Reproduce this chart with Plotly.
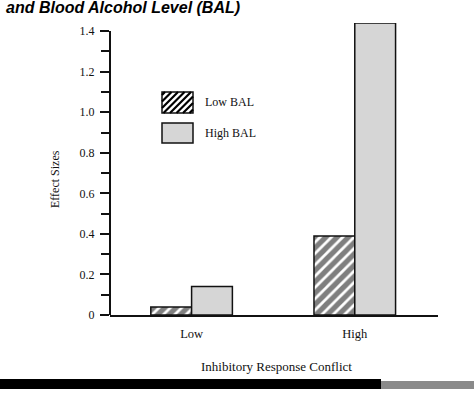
import plotly.graph_objects as go

# ---- data ----
categories = ["Low", "High"]
low_bal = [0.04, 0.39]
high_bal = [0.14, 1.44]
series_names = ["Low BAL", "High BAL"]
y_tick_vals = [0, 0.2, 0.4, 0.6, 0.8, 1.0, 1.2, 1.4]
y_tick_text = ["0", "0.2", "0.4", "0.6", "0.8", "1.0", "1.2", "1.4"]
title_text = "and Blood Alcohol Level (BAL)"
x_title = "Inhibitory Response Conflict"
y_title = "Effect Sizes"

W, H = 474, 394
L, R, T, B = 110, 36, 23, 79
PW, PH = W - L - R, H - T - B

def px(x):
    return (x - L) / PW

def py(y):
    return (H - B - y) / PH

SERIF = "Liberation Serif, Times New Roman, serif"
INK = "#111111"

fig = go.Figure()
fig.add_trace(go.Bar(
    x=categories, y=low_bal, name=series_names[0],
    marker=dict(color="white",
                pattern=dict(shape="/", fgcolor="black", bgcolor="white", size=8, solidity=0.65),
                line=dict(color=INK, width=1.5)),
    showlegend=False,
))
fig.add_trace(go.Bar(
    x=categories, y=high_bal, name=series_names[1],
    marker=dict(color="#d6d6d6", line=dict(color=INK, width=1.5)),
    showlegend=False,
))

shapes = []
# y axis line, ending at the last labelled tick (1.4)
shapes.append(dict(type="line", xref="paper", yref="y", x0=0, x1=0,
                   y0=0, y1=y_tick_vals[-1], line=dict(color=INK, width=2)))
# legend boxes (manual, larger swatches as in the original)
bx0, bx1 = 162, 193
boxes = [(92, 113), (123, 143)]
y0, y1 = boxes[0]
path = ""
k = bx0 + y0 + 3
while k < bx1 + y1:
    xa = max(bx0, k - y1)
    xb = min(bx1, k - y0)
    if xb > xa:
        path += f"M{px(xa)},{py(k - xa)}L{px(xb)},{py(k - xb)}"
    k += 6.5
shapes.append(dict(type="rect", xref="paper", yref="paper",
                   x0=px(bx0), x1=px(bx1), y0=py(y1), y1=py(y0),
                   fillcolor="white", line=dict(color=INK, width=1.5)))
shapes.append(dict(type="path", xref="paper", yref="paper", path=path,
                   line=dict(color="black", width=2.2)))
y0, y1 = boxes[1]
shapes.append(dict(type="rect", xref="paper", yref="paper",
                   x0=px(bx0), x1=px(bx1), y0=py(y1), y1=py(y0),
                   fillcolor="#d6d6d6", line=dict(color=INK, width=1.5)))
# bottom rule of the scanned page
shapes.append(dict(type="rect", xref="paper", yref="paper",
                   x0=px(0), x1=px(381), y0=py(389), y1=py(379),
                   fillcolor="black", line=dict(width=0)))
shapes.append(dict(type="rect", xref="paper", yref="paper",
                   x0=px(381), x1=px(474), y0=py(389), y1=py(381),
                   fillcolor="#8a8a8a", line=dict(width=0)))

annotations = [
    dict(text="Low BAL", xref="paper", yref="paper", x=px(203), y=py(102),
         xanchor="left", yanchor="middle", showarrow=False,
         font=dict(family=SERIF, size=12, color=INK)),
    dict(text="High BAL", xref="paper", yref="paper", x=px(203), y=py(133),
         xanchor="left", yanchor="middle", showarrow=False,
         font=dict(family=SERIF, size=12, color=INK)),
    dict(text=x_title, xref="paper", yref="paper", x=px(276), y=py(366),
         xanchor="center", yanchor="middle", showarrow=False,
         font=dict(family=SERIF, size=13, color=INK)),
    dict(text=y_title, xref="paper", yref="paper", x=px(55), y=py(179),
         xanchor="center", yanchor="middle", showarrow=False, textangle=-90,
         font=dict(family=SERIF, size=12, color=INK)),
    dict(text=title_text, xref="paper", yref="paper", x=px(4), y=py(-3),
         xanchor="left", yanchor="top", showarrow=False,
         font=dict(family="Liberation Sans, Arial, sans-serif", size=16,
                   weight="bold", style="italic", color="black")),
]

fig.update_layout(
    width=W, height=H, autosize=False,
    margin=dict(l=L, r=R, t=T, b=B),
    paper_bgcolor="white", plot_bgcolor="white",
    barmode="group", bargap=0.5, bargroupgap=0,
    shapes=shapes, annotations=annotations,
    showlegend=False,
    xaxis=dict(range=[-0.5, 1.51], showline=True, linecolor=INK, linewidth=2,
               ticks="", showgrid=False, zeroline=False,
               tickfont=dict(family=SERIF, size=12.5, color=INK),
               ticklabelstandoff=6),
    yaxis=dict(range=[0, 1.44], showline=False,
               ticks="outside", ticklen=9, tickwidth=1.5, tickcolor=INK,
               tickvals=y_tick_vals, ticktext=y_tick_text,
               minor=dict(ticks="outside", dtick=0.1, tick0=0, ticklen=8,
                          tickwidth=1.5, tickcolor=INK, showgrid=False),
               showgrid=False, zeroline=False,
               tickfont=dict(family=SERIF, size=12, color=INK),
               ticklabelstandoff=3),
)

fig.write_html("out.html", config={"displayModeBar": False},
               post_script="document.body.style.margin='0';document.body.style.padding='0';")
